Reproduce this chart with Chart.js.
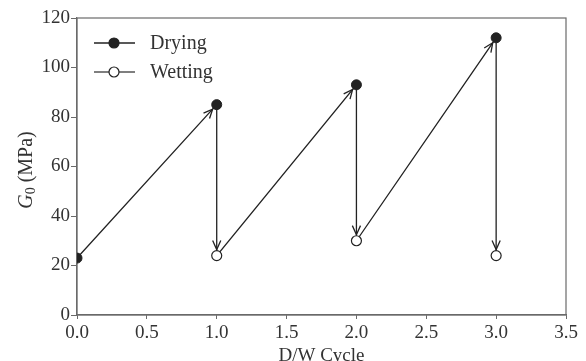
<!DOCTYPE html>
<html><head><meta charset="utf-8">
<script src="https://cdn.jsdelivr.net/npm/chart.js@4/dist/chart.umd.min.js"></script>
<style>html,body{margin:0;padding:0;background:#fff}#wrap{width:586px;height:361px}</style>
</head><body><div id="wrap"><canvas id="c" width="586" height="361"></canvas></div>
<script>
const cycles = [0, 1, 2, 3];
const dryingValues = [23, 85, 93, 112];
const wettingCycles = [1, 2, 3];
const wettingValues = [24, 30, 24];
const xTicks = [0, 0.5, 1, 1.5, 2, 2.5, 3, 3.5];
const yTicks = [0, 20, 40, 60, 80, 100, 120];
const seriesNames = ['Drying', 'Wetting'];
const xTitle = 'D/W Cycle';

const drying = cycles.map((c, i) => ({x: c, y: dryingValues[i]}));
const wetting = wettingCycles.map((c, i) => ({x: c, y: wettingValues[i]}));
const path = [];
cycles.forEach((c, i) => {
  path.push(drying[i]);
  const w = wettingCycles.indexOf(c);
  if (w >= 0) path.push(wetting[w]);
});

const FONT = 'Liberation Serif';
const INK = '#222';
const AX = '#6a6a6a';
const R = 5;

const plugin = {
  id: 'extras',
  beforeDatasetsDraw(chart) {
    const {ctx, chartArea: a} = chart;
    ctx.save();
    ctx.strokeStyle = AX; ctx.lineWidth = 1.2;
    ctx.strokeRect(a.left, a.top, a.right - a.left, a.bottom - a.top);
    ctx.restore();
  },
  afterDatasetDraw(chart, args) {
    if (args.index !== 2) return;
    const pts = args.meta.data;
    const ctx = chart.ctx;
    ctx.save();
    ctx.strokeStyle = INK; ctx.lineWidth = 1.3;
    for (let i = 1; i < pts.length; i++) {
      const p0 = pts[i - 1], p1 = pts[i];
      const ang = Math.atan2(p1.y - p0.y, p1.x - p0.x);
      const tx = p1.x - Math.cos(ang) * (R + 1);
      const ty = p1.y - Math.sin(ang) * (R + 1);
      const L = 10, sp = 0.42;
      ctx.beginPath();
      ctx.moveTo(tx - Math.cos(ang - sp) * L, ty - Math.sin(ang - sp) * L);
      ctx.lineTo(tx, ty);
      ctx.lineTo(tx - Math.cos(ang + sp) * L, ty - Math.sin(ang + sp) * L);
      ctx.stroke();
    }
    ctx.restore();
  },
  afterDraw(chart) {
    const ctx = chart.ctx;
    ctx.save();
    // legend
    const rows = [{y: 43, fill: INK}, {y: 72, fill: '#fff'}];
    rows.forEach((r, i) => {
      ctx.strokeStyle = i === 0 ? INK : '#555'; ctx.lineWidth = 1.5;
      ctx.beginPath(); ctx.moveTo(94, r.y); ctx.lineTo(135, r.y); ctx.stroke();
      ctx.beginPath(); ctx.arc(114, r.y, R, 0, Math.PI * 2);
      ctx.fillStyle = r.fill; ctx.fill();
      ctx.strokeStyle = INK; ctx.lineWidth = 1.2; ctx.stroke();
      ctx.fillStyle = '#333'; ctx.font = '20px "' + FONT + '"';
      ctx.textBaseline = 'middle'; ctx.textAlign = 'left';
      ctx.fillText(seriesNames[i], 150, r.y + 1);
    });
    // y title
    ctx.translate(25, 170);
    ctx.rotate(-Math.PI / 2);
    const f1 = 'italic 20px "' + FONT + '"', f2 = '14px "' + FONT + '"', f3 = '20px "' + FONT + '"';
    ctx.font = f1; const wG = ctx.measureText('G').width;
    ctx.font = f2; const w0 = ctx.measureText('0').width;
    ctx.font = f3; const wR = ctx.measureText(' (MPa)').width;
    let x = -(wG + w0 + wR) / 2;
    ctx.textBaseline = 'alphabetic'; ctx.fillStyle = '#333';
    ctx.font = f1; ctx.fillText('G', x, 7); x += wG;
    ctx.font = f2; ctx.fillText('0', x, 10); x += w0;
    ctx.font = f3; ctx.fillText(' (MPa)', x, 7);
    ctx.restore();
  }
};

new Chart(document.getElementById('c'), {
  type: 'scatter',
  data: {
    datasets: [
      {label: seriesNames[0], data: drying, pointRadius: R, pointHoverRadius: R,
       backgroundColor: INK, borderColor: INK, borderWidth: 1, showLine: false},
      {label: seriesNames[1], data: wetting, pointRadius: R, pointHoverRadius: R,
       backgroundColor: '#fff', borderColor: INK, borderWidth: 1.2, showLine: false},
      {label: 'path', data: path, pointRadius: 0, showLine: true,
       borderColor: INK, borderWidth: 1.3, fill: false, tension: 0}
    ]
  },
  options: {
    responsive: false, devicePixelRatio: 1, animation: false,
    layout: {padding: {top: 18, right: 20, left: 0, bottom: 0}},
    plugins: {legend: {display: false}, tooltip: {enabled: false}},
    scales: {
      x: {
        type: 'linear', min: 0, max: 3.5,
        afterBuildTicks: s => { s.ticks = xTicks.map(v => ({value: v})); },
        afterFit: s => { s.height = 46; },
        grid: {drawOnChartArea: false, drawTicks: true, tickLength: 4, color: AX},
        border: {color: AX, width: 1.2},
        ticks: {color: '#333', padding: 3, font: {family: FONT, size: 19},
                callback: v => Number(v).toFixed(1), maxRotation: 0},
        title: {display: true, text: xTitle, color: '#333', padding: {top: 0, bottom: -6},
                font: {family: FONT, size: 19}}
      },
      y: {
        type: 'linear', min: 0, max: 120,
        afterBuildTicks: s => { s.ticks = yTicks.map(v => ({value: v})); },
        afterFit: s => { s.width = 77; },
        grid: {drawOnChartArea: false, drawTicks: true, tickLength: 6, color: AX},
        border: {color: AX, width: 1.2},
        ticks: {color: '#333', padding: 1, font: {family: FONT, size: 19}}
      }
    }
  },
  plugins: [plugin]
});
</script>
</body></html>
